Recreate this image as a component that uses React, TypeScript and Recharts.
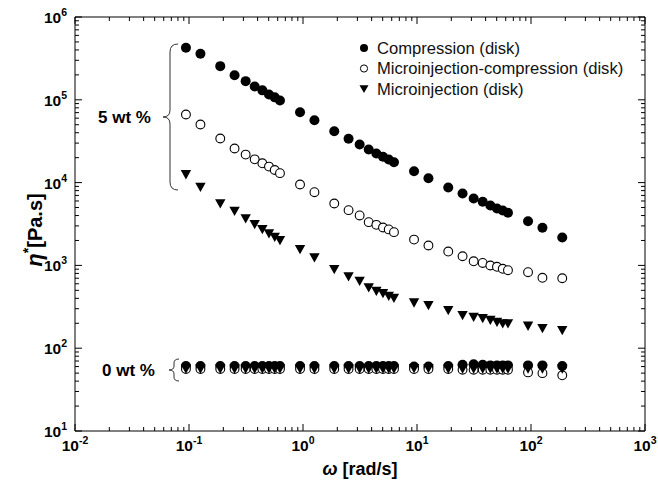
import React from 'react';
import { ScatterChart, Scatter, XAxis, YAxis, ReferenceArea } from 'recharts';

// Angular frequency (rad/s)
const omega = [
  0.094, 0.126, 0.188, 0.251, 0.314, 0.377, 0.44, 0.503, 0.565, 0.628,
  0.942, 1.26, 1.88, 2.51, 3.14, 3.77, 4.4, 5.03, 5.65, 6.28,
  9.42, 12.6, 18.8, 25.1, 31.4, 37.7, 44, 50.3, 56.5, 62.8,
  94.2, 126, 188,
];

// 5 wt %
const compression5 = [
  425000, 360000, 255000, 198000, 168000, 145000, 130000, 116000, 107000, 98000,
  70800, 56700, 41800, 33800, 28800, 25100, 22500, 20500, 19000, 17600,
  13700, 11300, 8730, 7380, 6420, 5860, 5290, 4860, 4600, 4320,
  3420, 2850, 2170,
];
const microComp5 = [
  66400, 50300, 34100, 25800, 21800, 19100, 17100, 15600, 14200, 13000,
  9480, 7660, 5590, 4650, 4010, 3330, 3090, 2870, 2720, 2520,
  2050, 1740, 1470, 1290, 1120, 1070, 997, 962, 910, 875,
  828, 708, 700,
];
const micro5 = [
  12500, 8800, 5550, 4520, 3660, 3120, 2720, 2410, 2190, 2000,
  1556, 1236, 892, 728, 644, 537, 488, 458, 425, 402,
  353, 328, 285, 248, 237, 228, 218, 206, 197, 197,
  185, 173, 164,
];

// 0 wt %
const compression0 = [
  61, 61, 61, 61, 61, 61, 61, 61, 61, 61,
  61, 61, 61, 61, 61, 61, 61, 61, 61, 61,
  60, 60, 61, 63, 64, 63, 62, 62, 62, 62,
  62, 62, 61,
];
const microComp0 = [
  56, 56, 56, 56, 56, 56, 56, 56, 56, 56,
  56, 56, 56, 56, 56, 56, 56, 56, 56, 56,
  56, 56, 56, 55, 55, 55, 55, 55, 55, 55,
  51, 50, 47,
];
const micro0 = [
  56, 56, 56, 56, 56, 56, 56, 56, 56, 56,
  56, 56, 56, 56, 56, 56, 56, 56, 56, 56,
  57, 57, 56, 56, 56, 56, 56, 56, 56, 56,
  56, 56, 56,
];

const seriesNames = [
  'Compression (disk)',
  'Microinjection-compression (disk)',
  'Microinjection (disk)',
];

const xMajorTicks = [0.01, 0.1, 1, 10, 100, 1000];
const xTickExponents = ['-2', '-1', '0', '1', '2', '3'];
const yMajorTicks = [10, 100, 1000, 10000, 100000, 1000000];
const yTickExponents = ['1', '2', '3', '4', '5', '6'];
const minorMultipliers = [2, 3, 4, 5, 6, 7, 8, 9];

const xMinorTicks = xMajorTicks.slice(0, -1).flatMap((d) => minorMultipliers.map((m) => +(d * m).toPrecision(3)));
const yMinorTicks = yMajorTicks.slice(0, -1).flatMap((d) => minorMultipliers.map((m) => +(d * m).toPrecision(3)));
const xTicks = [...xMajorTicks, ...xMinorTicks].sort((a, b) => a - b);
const yTicks = [...yMajorTicks, ...yMinorTicks].sort((a, b) => a - b);

const toPoints = (vals: number[]) => vals.map((v, i) => ({ x: omega[i], y: v }));

const W = 658;
const H = 482;
const PLOT_LEFT = 75;
const PLOT_RIGHT = 645;
const PLOT_TOP = 17;
const PLOT_BOTTOM = 431;
const FONT = '"Liberation Sans", Arial, Helvetica, sans-serif';

const XTick = (props: any) => {
  const { x, payload } = props;
  const idx = xMajorTicks.indexOf(payload.value);
  const len = idx >= 0 ? 7 : 4;
  return (
    <g>
      <line x1={x} x2={x} y1={PLOT_BOTTOM} y2={PLOT_BOTTOM - len} stroke="#000" strokeWidth={1} />
      <line x1={x} x2={x} y1={PLOT_TOP} y2={PLOT_TOP + len} stroke="#000" strokeWidth={1} />
      {idx >= 0 && (
        <text x={x} y={PLOT_BOTTOM + 20} textAnchor="middle" fontFamily={FONT} fontWeight="bold" fontSize={15.5} fill="#000">
          10
          <tspan dy={-7} fontSize={10.5}>{xTickExponents[idx]}</tspan>
        </text>
      )}
    </g>
  );
};

const YTick = (props: any) => {
  const { y, payload } = props;
  const idx = yMajorTicks.indexOf(payload.value);
  const len = idx >= 0 ? 7 : 4;
  return (
    <g>
      <line x1={PLOT_LEFT} x2={PLOT_LEFT + len} y1={y} y2={y} stroke="#000" strokeWidth={1} />
      <line x1={PLOT_RIGHT} x2={PLOT_RIGHT - len} y1={y} y2={y} stroke="#000" strokeWidth={1} />
      {idx >= 0 && (
        <text x={PLOT_LEFT - 8} y={y + 6} textAnchor="end" fontFamily={FONT} fontWeight="bold" fontSize={15.5} fill="#000">
          10
          <tspan dy={-7} fontSize={10.5}>{yTickExponents[idx]}</tspan>
        </text>
      )}
    </g>
  );
};

const FilledCircle = (p: any) => <circle cx={p.cx} cy={p.cy} r={5} fill="#000" />;
const OpenCircle = (p: any) => <circle cx={p.cx} cy={p.cy} r={4.4} fill="#fff" stroke="#000" strokeWidth={1.1} />;
const DownTriangle = (p: any) => (
  <polygon
    points={`${p.cx - 5.2},${p.cy - 4.5} ${p.cx + 5.2},${p.cy - 4.5} ${p.cx},${p.cy + 4.8}`}
    fill="#000"
  />
);

const XTitle = (props: any) => {
  const vb = props.viewBox || { x: PLOT_LEFT, width: PLOT_RIGHT - PLOT_LEFT };
  return (
    <text x={vb.x + vb.width / 2} y={475} textAnchor="middle" fontFamily={FONT} fontWeight="bold" fontSize={18} fill="#000">
      <tspan fontStyle="italic">ω</tspan> [rad/s]
    </text>
  );
};

const YTitle = () => (
  <text
    x={0}
    y={0}
    transform={`translate(42, 230) rotate(-90)`}
    textAnchor="middle"
    fontFamily={FONT}
    fontWeight="bold"
    fontSize={20}
    fill="#000"
  >
    <tspan fontStyle="italic" fontSize={22}>η</tspan>
    <tspan dy={-9} fontSize={14}>*</tspan>
    <tspan dy={9}>[Pa.s]</tspan>
  </text>
);

export default function App() {
  const legendRows = [
    { y: 48, kind: 'filled' },
    { y: 68.5, kind: 'open' },
    { y: 89, kind: 'tri' },
  ];
  return (
    <div style={{ position: 'absolute', left: 0, top: 0, width: W, height: H, background: '#fff' }}>
      <ScatterChart width={W} height={H} margin={{ top: PLOT_TOP, right: W - PLOT_RIGHT, bottom: 0, left: 0 }}>
        <XAxis
          dataKey="x"
          type="number"
          scale="log"
          domain={[0.01, 1000]}
          ticks={xTicks}
          interval={0}
          tick={<XTick />}
          tickLine={false}
          axisLine={false}
          height={H - PLOT_BOTTOM}
          allowDataOverflow
          label={<XTitle />}
        />
        <YAxis
          dataKey="y"
          type="number"
          scale="log"
          domain={[10, 1000000]}
          ticks={yTicks}
          interval={0}
          tick={<YTick />}
          tickLine={false}
          axisLine={false}
          width={PLOT_LEFT}
          allowDataOverflow
        />
        <ReferenceArea x1={0.01} x2={1000} y1={10} y2={1000000} fill="none" stroke="#000" strokeWidth={1} fillOpacity={0} />
        <Scatter name={seriesNames[0]} data={toPoints(compression5)} shape={<FilledCircle />} isAnimationActive={false} />
        <Scatter name={seriesNames[1]} data={toPoints(microComp5)} shape={<OpenCircle />} isAnimationActive={false} />
        <Scatter name={seriesNames[2]} data={toPoints(micro5)} shape={<DownTriangle />} isAnimationActive={false} />
        <Scatter name={seriesNames[0] + ' 0'} data={toPoints(compression0)} shape={<FilledCircle />} isAnimationActive={false} />
        <Scatter name={seriesNames[1] + ' 0'} data={toPoints(microComp0)} shape={<OpenCircle />} isAnimationActive={false} />
        <Scatter name={seriesNames[2] + ' 0'} data={toPoints(micro0)} shape={<DownTriangle />} isAnimationActive={false} />
      </ScatterChart>
      <svg width={W} height={H} style={{ position: 'absolute', left: 0, top: 0, pointerEvents: 'none' }}>
        <YTitle />
        {legendRows.map((r, i) => (
          <g key={i}>
            {r.kind === 'filled' && <circle cx={364} cy={r.y} r={4} fill="#000" />}
            {r.kind === 'open' && <circle cx={364} cy={r.y} r={3.6} fill="#fff" stroke="#000" strokeWidth={1} />}
            {r.kind === 'tri' && (
              <polygon points={`${359.5},${r.y - 3.8} ${368.5},${r.y - 3.8} ${364},${r.y + 4}`} fill="#000" />
            )}
            <text x={377} y={r.y + 5.8} fontFamily={FONT} fontSize={16.6} fill="#111">
              {seriesNames[i]}
            </text>
          </g>
        ))}
        <text x={98} y={123} fontFamily={FONT} fontWeight="bold" fontSize={17} fill="#000">5 wt %</text>
        <path
          d="M178,44 Q170,44 170,52 L170,110 Q170,117 163,117 Q170,117 170,124 L170,182 Q170,190 178,190"
          fill="none"
          stroke="#333"
          strokeWidth={1}
        />
        <text x={102} y={376} fontFamily={FONT} fontWeight="bold" fontSize={17} fill="#000">0 wt %</text>
        <path
          d="M179,359 Q174,359 174,363 L174,366 Q174,370 169,370 Q174,370 174,374 L174,377 Q174,381 179,381"
          fill="none"
          stroke="#333"
          strokeWidth={1}
        />
      </svg>
    </div>
  );
}
